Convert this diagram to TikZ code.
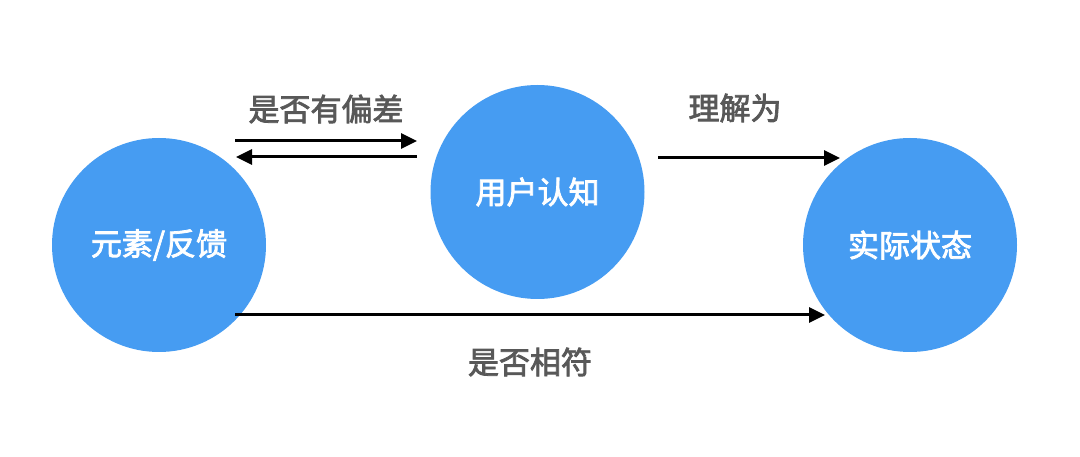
\documentclass[tikz,border=0pt]{standalone}
\usepackage{fontspec}
\newfontfamily\cjk{Noto Sans CJK SC}[FakeBold=2.5]
\usetikzlibrary{arrows.meta}
\definecolor{circblue}{HTML}{469CF2}
\definecolor{labgray}{HTML}{585858}
\tikzset{
  bubble/.style={circle, fill=circblue, minimum size=214pt, inner sep=0pt, text=white, font=\cjk\fontsize{31}{34}\selectfont},
  lab/.style={text=labgray, font=\cjk\fontsize{31}{34}\selectfont, inner sep=0pt},
  conn/.style={line width=3pt, -{Triangle[length=16pt,width=15pt]}}
}
\begin{document}
\begin{tikzpicture}[x=1pt,y=-1pt]
\useasboundingbox (0,0) rectangle (1080,457);
\fill[white] (0,0) rectangle (1080,457);
\node[bubble] (fb) at (159,245) {元素/反馈};
\node[bubble] (uc) at (537.5,192) {用户认知};
\node[bubble] (rs) at (910,245) {实际状态};
\coordinate (a1s) at (235,141);
\coordinate (a1e) at (417,141);
\coordinate (a2s) at (417,157);
\coordinate (a2e) at (236,157);
\coordinate (a3s) at (658,158);
\coordinate (a3e) at (840,158);
\coordinate (a4s) at (235,315);
\coordinate (a4e) at (825,315);
\draw[conn] (a1s) -- (a1e);
\draw[conn] (a2s) -- (a2e);
\draw[conn] (a3s) -- (a3e);
\draw[conn] (a4s) -- (a4e);
\node[lab] (l1) at (326,109) {是否有偏差};
\node[lab] (l2) at (735,108) {理解为};
\node[lab] (l3) at (530,362) {是否相符};
\end{tikzpicture}
\end{document}
